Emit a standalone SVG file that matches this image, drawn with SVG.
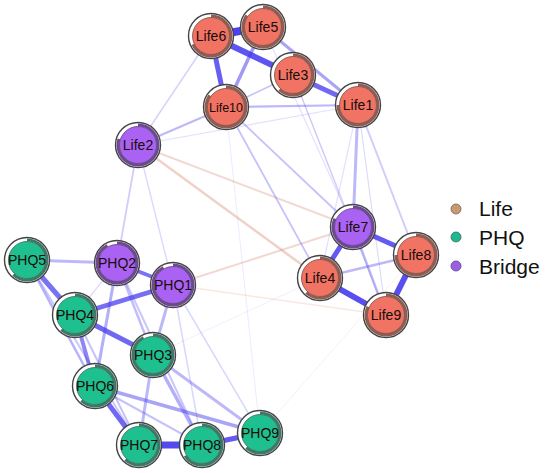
<svg xmlns="http://www.w3.org/2000/svg" width="550" height="473" viewBox="0 0 550 473">
<style>
.e{fill:none;stroke-linecap:round}
.b{stroke:#4236ee}
.r{stroke:#d27f66}
.rim{fill:#fff;stroke:#444;stroke-width:1.4}
.pie{fill:none;stroke-width:3}
.life .pie{stroke:#8e5d54}
.phq .pie{stroke:#3f7866}
.bridge .pie{stroke:#6c4a90}
.life .disc{fill:#f07363;stroke:#7a4a44;stroke-width:0.8}
.phq .disc{fill:#1fc08f;stroke:#3a6a5c;stroke-width:0.8}
.bridge .disc{fill:#a962f2;stroke:#5e3f80;stroke-width:0.8}
.node text{font-family:"Liberation Sans",Arial,sans-serif;font-size:14px;text-anchor:middle;fill:#1a0a0a}
.leg{font-family:"Liberation Sans",Arial,sans-serif;font-size:21px;fill:#111}
</style>
<rect width="550" height="473" fill="#fff"/>
<g id="connectors">
<line class="e b" x1="138" y1="145" x2="358" y2="105" stroke-width="1.2" stroke-opacity="0.15"/>
<line class="e b" x1="138" y1="145" x2="173" y2="285" stroke-width="1.5" stroke-opacity="0.18"/>
<line class="e b" x1="226" y1="107" x2="260" y2="433" stroke-width="1" stroke-opacity="0.1"/>
<line class="e b" x1="293" y1="75" x2="353" y2="227" stroke-width="1.2" stroke-opacity="0.18"/>
<line class="e b" x1="263" y1="27" x2="353" y2="227" stroke-width="1.2" stroke-opacity="0.15"/>
<line class="e b" x1="293" y1="75" x2="386" y2="315" stroke-width="1.2" stroke-opacity="0.15"/>
<line class="e b" x1="358" y1="105" x2="386" y2="315" stroke-width="1.2" stroke-opacity="0.18"/>
<line class="e b" x1="358" y1="105" x2="320" y2="278" stroke-width="1.2" stroke-opacity="0.15"/>
<line class="e b" x1="153" y1="355" x2="320" y2="278" stroke-width="1" stroke-opacity="0.08"/>
<line class="e r" x1="260" y1="433" x2="416" y2="255" stroke-width="1" stroke-opacity="0.12"/>
<line class="e r" x1="173" y1="285" x2="386" y2="315" stroke-width="1.5" stroke-opacity="0.18"/>
<line class="e b" x1="173" y1="285" x2="202" y2="445" stroke-width="1.5" stroke-opacity="0.2"/>
<line class="e b" x1="173" y1="285" x2="260" y2="433" stroke-width="1.5" stroke-opacity="0.2"/>
<line class="e b" x1="75" y1="315" x2="117" y2="263" stroke-width="1.2" stroke-opacity="0.18"/>
<line class="e b" x1="27" y1="260" x2="139" y2="445" stroke-width="2" stroke-opacity="0.28"/>
<line class="e b" x1="75" y1="315" x2="139" y2="445" stroke-width="2" stroke-opacity="0.3"/>
<line class="e b" x1="95" y1="386" x2="202" y2="445" stroke-width="2" stroke-opacity="0.3"/>
<line class="e b" x1="117" y1="263" x2="202" y2="445" stroke-width="2" stroke-opacity="0.28"/>
<line class="e b" x1="117" y1="263" x2="153" y2="355" stroke-width="2.5" stroke-opacity="0.32"/>
<line class="e b" x1="117" y1="263" x2="95" y2="386" stroke-width="3" stroke-opacity="0.4"/>
<line class="e b" x1="173" y1="285" x2="153" y2="355" stroke-width="3" stroke-opacity="0.35"/>
<line class="e b" x1="27" y1="260" x2="95" y2="386" stroke-width="2.5" stroke-opacity="0.38"/>
<line class="e b" x1="27" y1="260" x2="117" y2="263" stroke-width="3" stroke-opacity="0.35"/>
<line class="e b" x1="153" y1="355" x2="139" y2="445" stroke-width="3" stroke-opacity="0.35"/>
<line class="e b" x1="153" y1="355" x2="202" y2="445" stroke-width="3.5" stroke-opacity="0.4"/>
<line class="e b" x1="153" y1="355" x2="260" y2="433" stroke-width="3" stroke-opacity="0.35"/>
<line class="e b" x1="95" y1="386" x2="260" y2="433" stroke-width="3.5" stroke-opacity="0.45"/>
<line class="e b" x1="138" y1="145" x2="211" y2="36" stroke-width="1.5" stroke-opacity="0.22"/>
<line class="e b" x1="138" y1="145" x2="226" y2="107" stroke-width="2.2" stroke-opacity="0.35"/>
<line class="e b" x1="138" y1="145" x2="117" y2="263" stroke-width="1.8" stroke-opacity="0.25"/>
<line class="e r" x1="138" y1="145" x2="353" y2="227" stroke-width="2" stroke-opacity="0.3"/>
<line class="e r" x1="138" y1="145" x2="320" y2="278" stroke-width="2.5" stroke-opacity="0.36"/>
<line class="e r" x1="173" y1="285" x2="353" y2="227" stroke-width="2" stroke-opacity="0.3"/>
<line class="e b" x1="226" y1="107" x2="353" y2="227" stroke-width="1.8" stroke-opacity="0.3"/>
<line class="e b" x1="226" y1="107" x2="320" y2="278" stroke-width="1.8" stroke-opacity="0.3"/>
<line class="e b" x1="358" y1="105" x2="353" y2="227" stroke-width="3" stroke-opacity="0.35"/>
<line class="e b" x1="358" y1="105" x2="416" y2="255" stroke-width="2" stroke-opacity="0.25"/>
<line class="e b" x1="226" y1="107" x2="358" y2="105" stroke-width="2.2" stroke-opacity="0.35"/>
<line class="e b" x1="226" y1="107" x2="293" y2="75" stroke-width="1.5" stroke-opacity="0.3"/>
<line class="e b" x1="263" y1="27" x2="226" y2="107" stroke-width="3.5" stroke-opacity="0.5"/>
<line class="e b" x1="263" y1="27" x2="358" y2="105" stroke-width="3" stroke-opacity="0.45"/>
<line class="e b" x1="293" y1="75" x2="358" y2="105" stroke-width="5" stroke-opacity="0.75"/>
<line class="e b" x1="211" y1="36" x2="226" y2="107" stroke-width="5" stroke-opacity="0.8"/>
<line class="e b" x1="211" y1="36" x2="293" y2="75" stroke-width="6" stroke-opacity="0.85"/>
<line class="e b" x1="211" y1="36" x2="263" y2="27" stroke-width="8" stroke-opacity="0.95"/>
<line class="e b" x1="320" y1="278" x2="416" y2="255" stroke-width="2.5" stroke-opacity="0.35"/>
<line class="e b" x1="353" y1="227" x2="386" y2="315" stroke-width="2.5" stroke-opacity="0.35"/>
<line class="e b" x1="353" y1="227" x2="416" y2="255" stroke-width="5" stroke-opacity="0.82"/>
<line class="e b" x1="353" y1="227" x2="320" y2="278" stroke-width="5" stroke-opacity="0.82"/>
<line class="e b" x1="320" y1="278" x2="386" y2="315" stroke-width="6" stroke-opacity="0.88"/>
<line class="e b" x1="416" y1="255" x2="386" y2="315" stroke-width="6" stroke-opacity="0.88"/>
<line class="e b" x1="27" y1="260" x2="75" y2="315" stroke-width="5" stroke-opacity="0.7"/>
<line class="e b" x1="117" y1="263" x2="173" y2="285" stroke-width="4" stroke-opacity="0.7"/>
<line class="e b" x1="75" y1="315" x2="173" y2="285" stroke-width="4.5" stroke-opacity="0.72"/>
<line class="e b" x1="75" y1="315" x2="153" y2="355" stroke-width="5" stroke-opacity="0.75"/>
<line class="e b" x1="75" y1="315" x2="95" y2="386" stroke-width="4" stroke-opacity="0.6"/>
<line class="e b" x1="95" y1="386" x2="139" y2="445" stroke-width="5" stroke-opacity="0.75"/>
<line class="e b" x1="139" y1="445" x2="202" y2="445" stroke-width="7" stroke-opacity="0.9"/>
<line class="e b" x1="202" y1="445" x2="260" y2="433" stroke-width="5" stroke-opacity="0.82"/>
</g>
<g id="Life6" class="node life" transform="translate(211,36)"><circle r="22.5" class="rim"/><circle r="20" class="pie" pathLength="100" stroke-dasharray="68 100" transform="rotate(-90)"/><circle r="18.5" class="disc"/><text y="5">Life6</text></g>
<g id="Life5" class="node life" transform="translate(263,27)"><circle r="22.5" class="rim"/><circle r="20" class="pie" pathLength="100" stroke-dasharray="85 100" transform="rotate(-90)"/><circle r="18.5" class="disc"/><text y="5">Life5</text></g>
<g id="Life3" class="node life" transform="translate(293,75)"><circle r="22.5" class="rim"/><circle r="20" class="pie" pathLength="100" stroke-dasharray="62 100" transform="rotate(-90)"/><circle r="18.5" class="disc"/><text y="5">Life3</text></g>
<g id="Life1" class="node life" transform="translate(358,105)"><circle r="22.5" class="rim"/><circle r="20" class="pie" pathLength="100" stroke-dasharray="75 100" transform="rotate(-90)"/><circle r="18.5" class="disc"/><text y="5">Life1</text></g>
<g id="Life10" class="node life" transform="translate(226,107)"><circle r="22.5" class="rim"/><circle r="20" class="pie" pathLength="100" stroke-dasharray="85 100" transform="rotate(-90)"/><circle r="18.5" class="disc"/><text y="4.5" style="font-size:12.5px">Life10</text></g>
<g id="Life2" class="node bridge" transform="translate(138,145)"><circle r="22.5" class="rim"/><circle r="20" class="pie" pathLength="100" stroke-dasharray="80 100" transform="rotate(-90)"/><circle r="18.5" class="disc"/><text y="5">Life2</text></g>
<g id="Life7" class="node bridge" transform="translate(353,227)"><circle r="22.5" class="rim"/><circle r="20" class="pie" pathLength="100" stroke-dasharray="82 100" transform="rotate(-90)"/><circle r="18.5" class="disc"/><text y="5">Life7</text></g>
<g id="Life8" class="node life" transform="translate(416,255)"><circle r="22.5" class="rim"/><circle r="20" class="pie" pathLength="100" stroke-dasharray="75 100" transform="rotate(-90)"/><circle r="18.5" class="disc"/><text y="5">Life8</text></g>
<g id="Life4" class="node life" transform="translate(320,278)"><circle r="22.5" class="rim"/><circle r="20" class="pie" pathLength="100" stroke-dasharray="62 100" transform="rotate(-90)"/><circle r="18.5" class="disc"/><text y="5">Life4</text></g>
<g id="Life9" class="node life" transform="translate(386,315)"><circle r="22.5" class="rim"/><circle r="20" class="pie" pathLength="100" stroke-dasharray="82 100" transform="rotate(-90)"/><circle r="18.5" class="disc"/><text y="5">Life9</text></g>
<g id="PHQ5" class="node phq" transform="translate(27,260)"><circle r="22.5" class="rim"/><circle r="20" class="pie" pathLength="100" stroke-dasharray="62 100" transform="rotate(-90)"/><circle r="18.5" class="disc"/><text y="5">PHQ5</text></g>
<g id="PHQ2" class="node bridge" transform="translate(117,263)"><circle r="22.5" class="rim"/><circle r="20" class="pie" pathLength="100" stroke-dasharray="92 100" transform="rotate(-90)"/><circle r="18.5" class="disc"/><text y="5">PHQ2</text></g>
<g id="PHQ1" class="node bridge" transform="translate(173,285)"><circle r="22.5" class="rim"/><circle r="20" class="pie" pathLength="100" stroke-dasharray="92 100" transform="rotate(-90)"/><circle r="18.5" class="disc"/><text y="5">PHQ1</text></g>
<g id="PHQ4" class="node phq" transform="translate(75,315)"><circle r="22.5" class="rim"/><circle r="20" class="pie" pathLength="100" stroke-dasharray="62 100" transform="rotate(-90)"/><circle r="18.5" class="disc"/><text y="5">PHQ4</text></g>
<g id="PHQ3" class="node phq" transform="translate(153,355)"><circle r="22.5" class="rim"/><circle r="20" class="pie" pathLength="100" stroke-dasharray="92 100" transform="rotate(-90)"/><circle r="18.5" class="disc"/><text y="5">PHQ3</text></g>
<g id="PHQ6" class="node phq" transform="translate(95,386)"><circle r="22.5" class="rim"/><circle r="20" class="pie" pathLength="100" stroke-dasharray="62 100" transform="rotate(-90)"/><circle r="18.5" class="disc"/><text y="5">PHQ6</text></g>
<g id="PHQ7" class="node phq" transform="translate(139,445)"><circle r="22.5" class="rim"/><circle r="20" class="pie" pathLength="100" stroke-dasharray="62 100" transform="rotate(-90)"/><circle r="18.5" class="disc"/><text y="5">PHQ7</text></g>
<g id="PHQ8" class="node phq" transform="translate(202,445)"><circle r="22.5" class="rim"/><circle r="20" class="pie" pathLength="100" stroke-dasharray="66 100" transform="rotate(-90)"/><circle r="18.5" class="disc"/><text y="5">PHQ8</text></g>
<g id="PHQ9" class="node phq" transform="translate(260,433)"><circle r="22.5" class="rim"/><circle r="20" class="pie" pathLength="100" stroke-dasharray="62 100" transform="rotate(-90)"/><circle r="18.5" class="disc"/><text y="5">PHQ9</text></g>
<g id="legend">
<circle cx="456" cy="209" r="5" fill="#c89a72" stroke="#7a6050" stroke-width="0.8"/>
<circle cx="456" cy="237" r="5" fill="#1fb890" stroke="#3a6a5c" stroke-width="0.8"/>
<circle cx="456" cy="266" r="5" fill="#9a5fe8" stroke="#5e3f80" stroke-width="0.8"/>
<text class="leg" x="479" y="216">Life</text>
<text class="leg" x="479" y="245">PHQ</text>
<text class="leg" x="479" y="274">Bridge</text>
</g>
</svg>
